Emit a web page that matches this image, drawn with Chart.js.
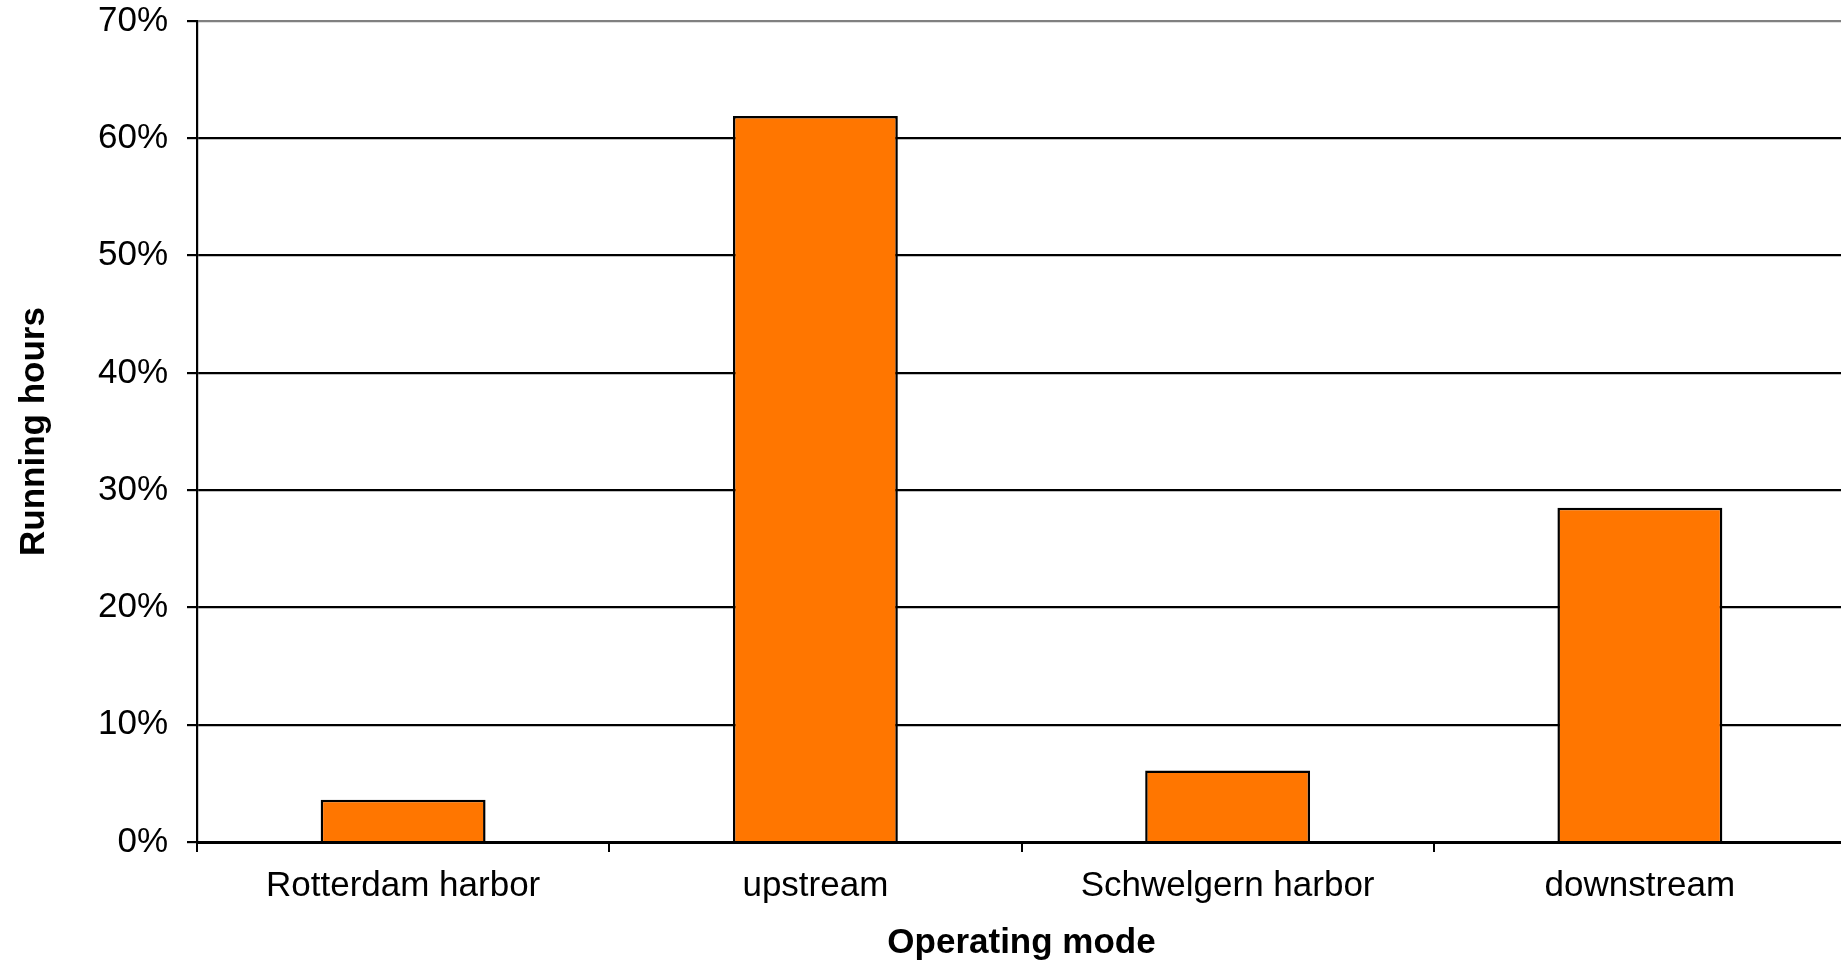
<!DOCTYPE html>
<html>
<head>
<meta charset="utf-8">
<title>Running hours per operating mode</title>
<script src="https://cdn.jsdelivr.net/npm/chart.js@4.4.1/dist/chart.umd.min.js"></script>
<style>
    html, body { margin: 0; padding: 0; background: #fff; overflow: hidden; }
    #wrap { width: 1841px; height: 960px; overflow: hidden; }
</style>
</head>
<body>
<div id="wrap"><canvas id="modeChart" width="1846" height="960"></canvas></div>
<script>
// 運転モード別の稼働時間割合
const modes = ['Rotterdam harbor', 'upstream', 'Schwelgern harbor', 'downstream'];
const runningShare = [3.6, 61.9, 6.1, 28.5];
const yTicks = [0, 10, 20, 30, 40, 50, 60, 70];

const fontFamily = '"Liberation Sans", Arial, sans-serif';

const modeChart = new Chart(
    document.getElementById('modeChart'),
    {
        type: 'bar',
        data: {
            labels: modes,
            datasets: [{
                label: 'Running hours',
                data: runningShare,
                backgroundColor: '#FF7600',
                borderColor: '#000',
                borderWidth: 2.5,
                borderSkipped: 'bottom',
                barPercentage: 0.4,
                categoryPercentage: 1.0
            }]
        },
        options: {
            responsive: false,
            animation: false,
            devicePixelRatio: 1,
            layout: { padding: { top: 21, right: 0, bottom: 0, left: 0 } },
            plugins: {
                legend: { display: false },
                tooltip: { enabled: false }
            },
            scales: {
                x: {
                    grid: {
                        display: true,
                        drawOnChartArea: false,
                        offset: true,
                        tickLength: 10,
                        color: '#000',
                        lineWidth: 2
                    },
                    border: { color: '#000', width: 3 },
                    ticks: {
                        color: '#000',
                        padding: 13,
                        maxRotation: 0,
                        font: { family: fontFamily, size: 35 }
                    },
                    title: {
                        display: true,
                        text: 'Operating mode',
                        color: '#000',
                        padding: { top: 2, bottom: -4 },
                        font: { family: fontFamily, size: 35, weight: 'bold' }
                    }
                },
                y: {
                    min: 0,
                    max: 70,
                    afterFit: scale => {
                        scale.width = 197;
                        // ラベル分の上下余白は不要
                        scale.paddingTop = 0;
                        scale.paddingBottom = 0;
                    },
                    afterBuildTicks: scale => {
                        scale.ticks = yTicks.map(v => ({ value: v }));
                    },
                    grid: {
                        tickLength: 10,
                        lineWidth: 2.2,
                        // 上端の線だけグレー
                        color: ctx => (ctx.tick && ctx.tick.value === 70) ? '#808080' : '#000',
                        tickColor: '#000'
                    },
                    border: { color: '#000', width: 2.2 },
                    ticks: {
                        color: '#000',
                        padding: 19,
                        font: { family: fontFamily, size: 35 },
                        callback: v => v + '%'
                    },
                    title: {
                        display: true,
                        text: 'Running hours',
                        color: '#000',
                        padding: { top: 13, bottom: 0 },
                        font: { family: fontFamily, size: 35, weight: 'bold' }
                    }
                }
            }
        }
    }
);
</script>
</body>
</html>
